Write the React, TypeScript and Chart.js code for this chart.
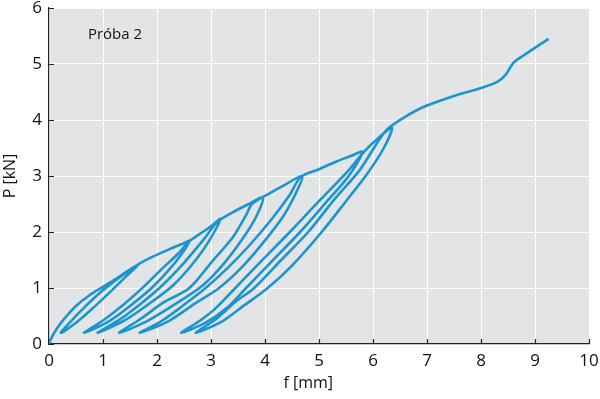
import React, { useEffect, useRef } from "react";
import { Chart, registerables } from "chart.js";

Chart.register(...registerables);

// Load path (f [mm], P [kN]), in traversal order
const envelope0 = [[0, 0], [0.05, 0.12], [0.15, 0.28], [0.3, 0.47], [0.5, 0.68], [0.75, 0.87], [1.0, 1.02], [1.3, 1.2], [1.65, 1.42]];
const loop1 = [[1.4, 1.18], [1.1, 0.9], [0.8, 0.63], [0.5, 0.38], [0.22, 0.2], [0.4, 0.4], [0.65, 0.65], [0.95, 0.92], [1.25, 1.15], [1.5, 1.32], [1.63, 1.41]];
const env12 = [[1.9, 1.55], [2.2, 1.68], [2.45, 1.78], [2.6, 1.84]];
const loop2 = [[2.45, 1.6], [2.2, 1.3], [1.9, 1.0], [1.5, 0.68], [1.1, 0.4], [0.65, 0.2], [1.0, 0.42], [1.4, 0.72], [1.75, 1.02], [2.1, 1.35], [2.4, 1.62], [2.58, 1.82]];
const env23 = [[2.8, 1.97], [3.0, 2.1], [3.17, 2.23]];
const loop3 = [[2.95, 1.82], [2.65, 1.42], [2.3, 1.05], [1.9, 0.75], [1.4, 0.42], [0.9, 0.2], [1.3, 0.43], [1.7, 0.72], [2.1, 1.05], [2.5, 1.45], [2.85, 1.85], [3.12, 2.18]];
const env34 = [[3.4, 2.35], [3.7, 2.5], [3.96, 2.62]];
const loop4 = [[3.85, 2.3], [3.6, 1.9], [3.25, 1.45], [2.85, 1.05], [2.35, 0.72], [1.8, 0.4], [1.3, 0.2], [1.7, 0.45], [2.1, 0.73], [2.6, 1.0], [3.0, 1.45], [3.4, 1.9], [3.65, 2.3], [3.76, 2.5]];
const env45 = [[4.1, 2.7], [4.4, 2.86], [4.69, 3.0]];
const loop5 = [[4.6, 2.75], [4.35, 2.3], [4.0, 1.85], [3.6, 1.4], [3.15, 1.0], [2.7, 0.72], [2.2, 0.4], [1.68, 0.2], [2.1, 0.42], [2.5, 0.7], [2.9, 1.0], [3.3, 1.35], [3.7, 1.75], [4.1, 2.2], [4.45, 2.65], [4.66, 2.98]];
const env56 = [[5.0, 3.12], [5.3, 3.25], [5.6, 3.36], [5.8, 3.43]];
const loop6 = [[5.55, 3.0], [5.15, 2.55], [4.65, 2.0], [4.1, 1.45], [3.65, 1.0], [3.3, 0.65], [2.9, 0.38], [2.45, 0.2], [2.8, 0.42], [3.1, 0.65], [3.45, 1.0], [3.9, 1.45], [4.46, 2.0], [5.0, 2.55], [5.5, 3.05], [5.85, 3.45], [6.1, 3.68], [6.35, 3.86]];
const loop7 = [[6.2, 3.5], [5.9, 3.05], [5.5, 2.55], [5.05, 2.0], [4.5, 1.4], [4.05, 1.0], [3.6, 0.68], [3.2, 0.4], [2.72, 0.2], [3.1, 0.45], [3.45, 0.75], [3.8, 1.0], [4.3, 1.5], [4.8, 2.0], [5.3, 2.6], [5.75, 3.1], [6.05, 3.55], [6.25, 3.82]];
const envEnd = [[6.55, 4.03], [6.8, 4.17], [7.0, 4.26], [7.5, 4.43], [8.0, 4.57], [8.3, 4.68], [8.45, 4.8], [8.6, 5.02], [8.8, 5.16], [9.25, 5.45]];

const xTicks = [0, 1, 2, 3, 4, 5, 6, 7, 8, 9, 10];
const yTicks = [0, 1, 2, 3, 4, 5, 6];
const xTitle = "f [mm]";
const yTitle = "P [kN]";
const sampleLabel = "Próba 2";

const FONT = "'Open Sans', 'DejaVu Sans', sans-serif";

export default function App() {
  const ref = useRef<HTMLCanvasElement | null>(null);
  useEffect(() => {
    document.body.style.margin = "0";
    const path = [
      ...envelope0, ...loop1, ...env12, ...loop2, ...env23, ...loop3,
      ...env34, ...loop4, ...env45, ...loop5, ...env56, ...loop6, ...loop7, ...envEnd,
    ].map(([x, y]) => ({ x, y }));

    const decor = {
      id: "decor",
      beforeDraw(chart: any) {
        const { ctx, chartArea: a } = chart;
        ctx.save();
        ctx.fillStyle = "#e2e4e6";
        ctx.fillRect(a.left, a.top, a.right - a.left, a.bottom - a.top);
        ctx.restore();
      },
      beforeDatasetsDraw(chart: any) {
        const { ctx, chartArea: a, scales } = chart;
        ctx.save();
        ctx.strokeStyle = "#222";
        ctx.lineWidth = 1.2;
        ctx.beginPath();
        xTicks.forEach((v) => {
          const px = Math.round(scales.x.getPixelForValue(v)) + 0.5;
          ctx.moveTo(px, a.bottom);
          ctx.lineTo(px, a.bottom - 5);
        });
        yTicks.forEach((v) => {
          const py = Math.round(scales.y.getPixelForValue(v)) + 0.5;
          ctx.moveTo(a.left, py);
          ctx.lineTo(a.left + 5, py);
        });
        ctx.stroke();
        ctx.restore();
      },
      afterDraw(chart: any) {
        const { ctx, chartArea: a, scales } = chart;
        ctx.save();
        ctx.fillStyle = "#111";
        ctx.font = `16px ${FONT}`;
        ctx.textAlign = "center";
        ctx.textBaseline = "middle";
        ctx.fillText(xTitle, scales.x.getPixelForValue(4.8), 383);
        ctx.save();
        ctx.translate(10, (a.top + a.bottom) / 2);
        ctx.rotate(-Math.PI / 2);
        ctx.fillText(yTitle, 0, 0);
        ctx.restore();
        ctx.font = `15px ${FONT}`;
        ctx.textAlign = "left";
        ctx.fillText(sampleLabel, scales.x.getPixelForValue(0.72), scales.y.getPixelForValue(5.52));
        ctx.restore();
      },
    };

    const chart = new Chart(ref.current as HTMLCanvasElement, {
      type: "scatter",
      data: {
        datasets: [
          {
            data: path,
            showLine: true,
            borderColor: "#1b95cf",
            borderWidth: 2.6,
            pointRadius: 0,
            tension: 0.3,
            fill: false,
          },
        ],
      },
      options: {
        responsive: false,
        animation: false,
        layout: { padding: { top: 8, right: 11, left: 0, bottom: 0 } },
        plugins: { legend: { display: false }, tooltip: { enabled: false } },
        scales: {
          x: {
            type: "linear",
            min: 0,
            max: 10,
            afterFit: (s: any) => { s.height = 55; s.paddingLeft = 0; s.paddingRight = 0; },
            afterBuildTicks: (s: any) => { s.ticks = xTicks.map((v) => ({ value: v })); },
            ticks: { stepSize: 1, color: "#111", padding: 9, font: { family: FONT, size: 17, lineHeight: 1 } },
            grid: { color: "#ffffff", lineWidth: 1, drawTicks: false },
            border: { display: true, color: "#222", width: 1.2 },
          },
          y: {
            type: "linear",
            min: 0,
            max: 6,
            afterFit: (s: any) => { s.width = 49; s.paddingTop = 0; s.paddingBottom = 0; },
            afterBuildTicks: (s: any) => { s.ticks = yTicks.map((v) => ({ value: v })); },
            ticks: { stepSize: 1, color: "#111", padding: 7, font: { family: FONT, size: 17, lineHeight: 1 } },
            grid: { color: "#ffffff", lineWidth: 1, drawTicks: false },
            border: { display: true, color: "#222", width: 1.2 },
          },
        },
      },
      plugins: [decor],
    });
    return () => chart.destroy();
  }, []);
  return (
    <div style={{ width: 600, height: 399 }}>
      <canvas ref={ref} width={600} height={399} />
    </div>
  );
}
